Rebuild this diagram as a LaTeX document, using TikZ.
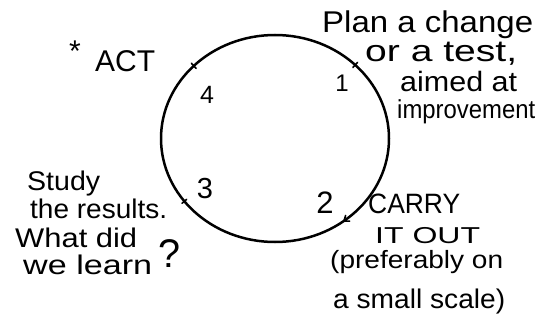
\documentclass[tikz,border=0pt]{standalone}
\usepackage{fontspec}
\usepackage{graphicx}
\setmainfont{Liberation Sans}
\usetikzlibrary{decorations.markings}
\newcommand\fitline[3]{\resizebox{#1pt}{\height}{\fontsize{#2pt}{#2pt}\selectfont #3}}
\tikzset{
  hand/.style={inner sep=0pt, anchor=base west, text=black},
  digit/.style={inner sep=0pt, anchor=base, text=black},
  cycle/.style={line width=2.5pt, line cap=round},
  tickmark/.style={line width=1.6pt, line cap=round},
}
\begin{document}
\begin{tikzpicture}[x=1pt,y=1pt]
\useasboundingbox[fill=white] (0,0) rectangle (541,-321);
% the cycle
\draw[cycle, postaction={decorate}, decoration={markings,
    mark=at position 0.122 with {\draw[tickmark] (0,-3.5) -- (0,3.5);},
    mark=at position 0.38 with {\draw[tickmark] (0,-3.5) -- (0,3.5);},
    mark=at position 0.60 with {\draw[tickmark] (0,-3) -- (0,3);},
    mark=at position 0.86 with {\draw[tickmark] (2.5,3.5) -- (-2,0) -- (2.5,-3.5);}}]
  (275,-138.5) ellipse [x radius=114pt, y radius=103.5pt];
% stage numbers
\node[digit] (n1) at (342,-92) {\fontsize{24pt}{24pt}\selectfont 1};
\node[digit] (n2) at (325,-213) {\fontsize{31pt}{31pt}\selectfont 2};
\node[digit] (n3) at (205,-198) {\fontsize{29pt}{29pt}\selectfont 3};
\node[digit] (n4) at (207,-103) {\fontsize{25pt}{25pt}\selectfont 4};
% plan
\node[hand] (p1) at (322,-33) {\fitline{211}{30}{Plan a change}};
\node[hand] (p2) at (365,-62) {\fitline{152}{30}{or a test,}};
\node[hand] (p3) at (400,-92) {\fitline{117}{28}{aimed at}};
\node[hand] (p4) at (397,-118) {\fitline{138}{26}{improvement}};
% do
\node[hand] (d1) at (368,-213) {\fitline{92}{28}{CARRY}};
\node[hand] (d2) at (375,-243) {\fitline{105}{23}{IT OUT}};
\node[hand] (d3) at (330,-268) {\fitline{173}{25}{(preferably on}};
\node[hand] (d4) at (333,-308) {\fitline{172}{27}{a small scale)}};
% study
\node[hand] (s1) at (27,-190) {\fitline{73}{27}{Study}};
\node[hand] (s2) at (30,-218) {\fitline{137}{27}{the results.}};
\node[hand] (s3) at (15,-247) {\fitline{122}{27}{What did}};
\node[hand] (s4) at (23,-274) {\fitline{129}{27}{we learn}};
\node[hand] (s5) at (158,-267) {\fitline{22}{40}{?}};
% act
\node[digit] (star) at (75,-62) {\fontsize{30pt}{30pt}\selectfont *};
\node[hand] (act) at (95,-72) {\fitline{60}{30}{ACT}};
\end{tikzpicture}
\end{document}
